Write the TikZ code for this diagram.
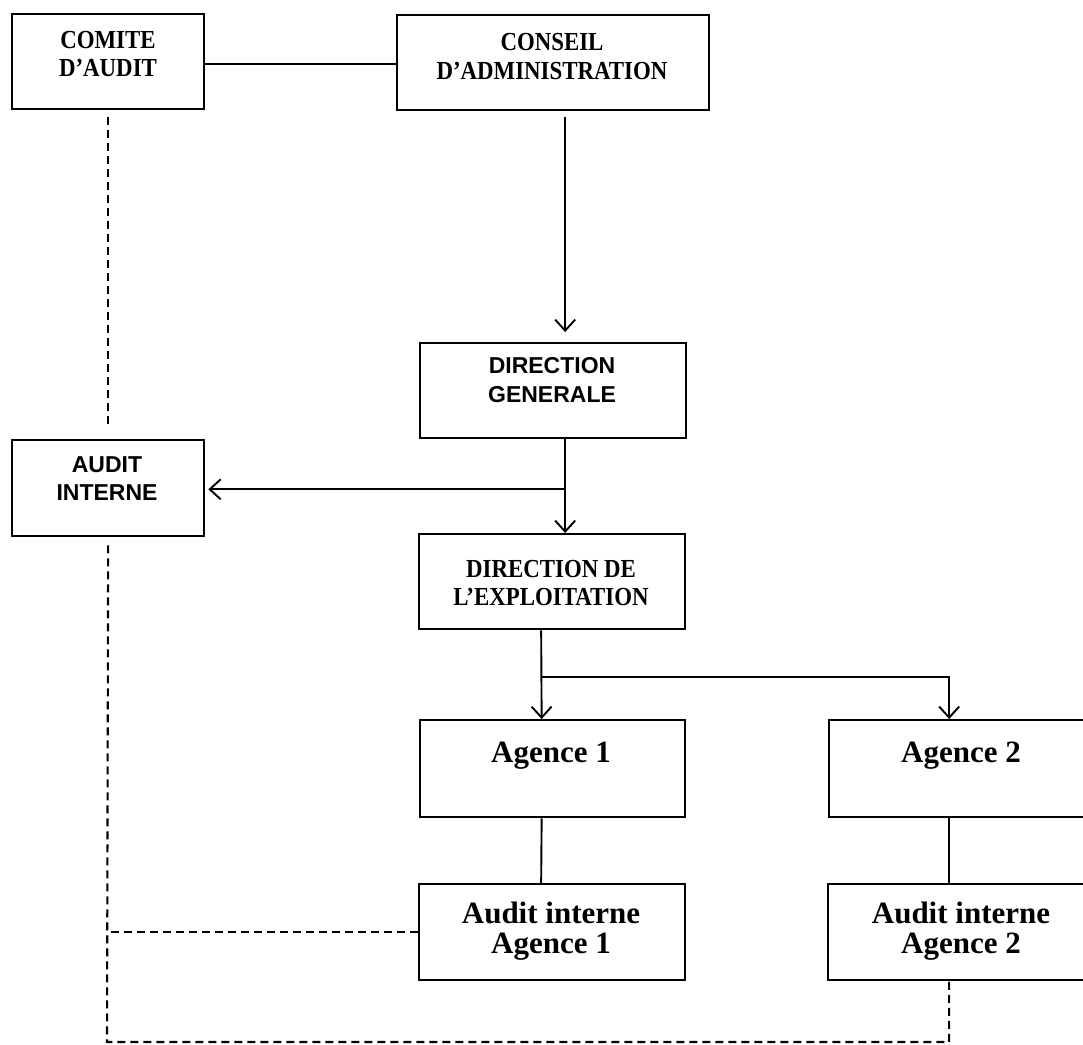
\documentclass[tikz,border=0pt]{standalone}
\usepackage{fontspec}
\usetikzlibrary{arrows.meta,calc}
\newfontfamily\topserif[FakeStretch=0.88]{Liberation Serif}
\newfontfamily\agserif{Liberation Serif}
\newfontfamily\topsans{Liberation Sans}
\tikzset{
  box/.style={draw, line width=2.3pt, inner sep=0pt, anchor=north west},
  tserif/.style={font=\topserif\bfseries\fontsize{26}{29}\selectfont, align=center, anchor=base, inner sep=0pt},
  tsans/.style={font=\topsans\bfseries\fontsize{23}{28}\selectfont, align=center, anchor=base, inner sep=0pt},
  aserif/.style={font=\agserif\bfseries\fontsize{31}{30}\selectfont, align=center, anchor=base, inner sep=0pt},
  conn/.style={line width=1.9pt},
  arr/.style={conn, -{Straight Barb[length=11pt,width=20pt,line width=1.9pt]}},
  dsh/.style={line width=2.1pt, dash pattern=on 8pt off 5pt}
}
\begin{document}
\begin{tikzpicture}[x=1pt,y=-1pt]
\useasboundingbox[fill=white] (0,0) rectangle (1083,1044);
% boxes
\node[box, minimum width=192pt, minimum height=95pt] (comite) at (11,13) {};
\node[box, minimum width=312pt, minimum height=95pt] (conseil) at (396,14) {};
\node[box, minimum width=266pt, minimum height=95pt] (dg) at (419,342) {};
\node[box, minimum width=192pt, minimum height=96pt] (ai) at (11,439) {};
\node[box, minimum width=266pt, minimum height=95pt] (de) at (418,533) {};
\node[box, minimum width=265pt, minimum height=97pt] (ag1) at (419,719) {};
\node[box, minimum width=266pt, minimum height=97pt] (ag2) at (828,719) {};
\node[box, minimum width=266pt, minimum height=96pt] (aia1) at (418,883) {};
\node[box, minimum width=266pt, minimum height=96pt] (aia2) at (827,883) {};
% texts
\node[tserif] (tcomite1) at (108,48) {COMITE};
\node[tserif] (tcomite2) at (108,76) {D’AUDIT};
\node[tserif] (tconseil1) at (552,50) {CONSEIL};
\node[tserif] (tconseil2) at (552,79) {D’ADMINISTRATION};
\node[tsans] (tdg1) at (552,373) {DIRECTION};
\node[tsans] (tdg2) at (552,402) {GENERALE};
\node[tsans] (tai1) at (107,472) {AUDIT};
\node[tsans] (tai2) at (107,500) {INTERNE};
\node[tserif] (tde1) at (551,577) {DIRECTION DE};
\node[tserif] (tde2) at (551,605) {L’EXPLOITATION};
\node[aserif] (tag1) at (551,762) {Agence 1};
\node[aserif] (tag2) at (961,762) {Agence 2};
\node[aserif] (taia11) at (551,923) {Audit interne};
\node[aserif] (taia12) at (551,953) {Agence 1};
\node[aserif] (taia21) at (961,923) {Audit interne};
\node[aserif] (taia22) at (961,953) {Agence 2};
% solid connectors
\draw[conn] ([yshift=-2pt]comite.east) -- ([yshift=-2pt]comite.east -| conseil.west);
\draw[arr] ([xshift=12pt,yshift=-6pt]conseil.south) -- ([xshift=12pt,yshift=10pt]dg.north);
\draw[arr] ([xshift=12pt]dg.south) -- ([xshift=13pt]de.north);
\path ([xshift=12pt]dg.south) ++(0,50) coordinate (br1);
\draw[arr, shorten >=3pt] (br1) -- (br1 -| ai.east);
\draw[arr] ([xshift=-11pt]de.south) -- ([xshift=-11pt]ag1.north);
\path ([xshift=-11pt]de.south) ++(0,47) coordinate (br2);
\draw[arr] (br2) -| ([xshift=-13pt]ag2.north);
\draw[conn] ([xshift=-11pt]ag1.south) -- ([xshift=-11pt]aia1.north);
\draw[conn] ([xshift=-13pt]ag2.south) -- ([xshift=-12pt]aia2.north);
% dashed connectors
\coordinate (cbot) at (107,1042);
\coordinate (aia2s) at ([xshift=-12pt]aia2.south);
\draw[dsh] ([yshift=-7pt]comite.south) -- ([yshift=14pt]ai.north);
\draw[dsh] ([yshift=-8pt]ai.south) -- (cbot) -- (cbot -| aia2s) -- (aia2s);
\draw[dsh] (aia1.west) -- (aia1.west -| cbot);
\end{tikzpicture}
\end{document}
